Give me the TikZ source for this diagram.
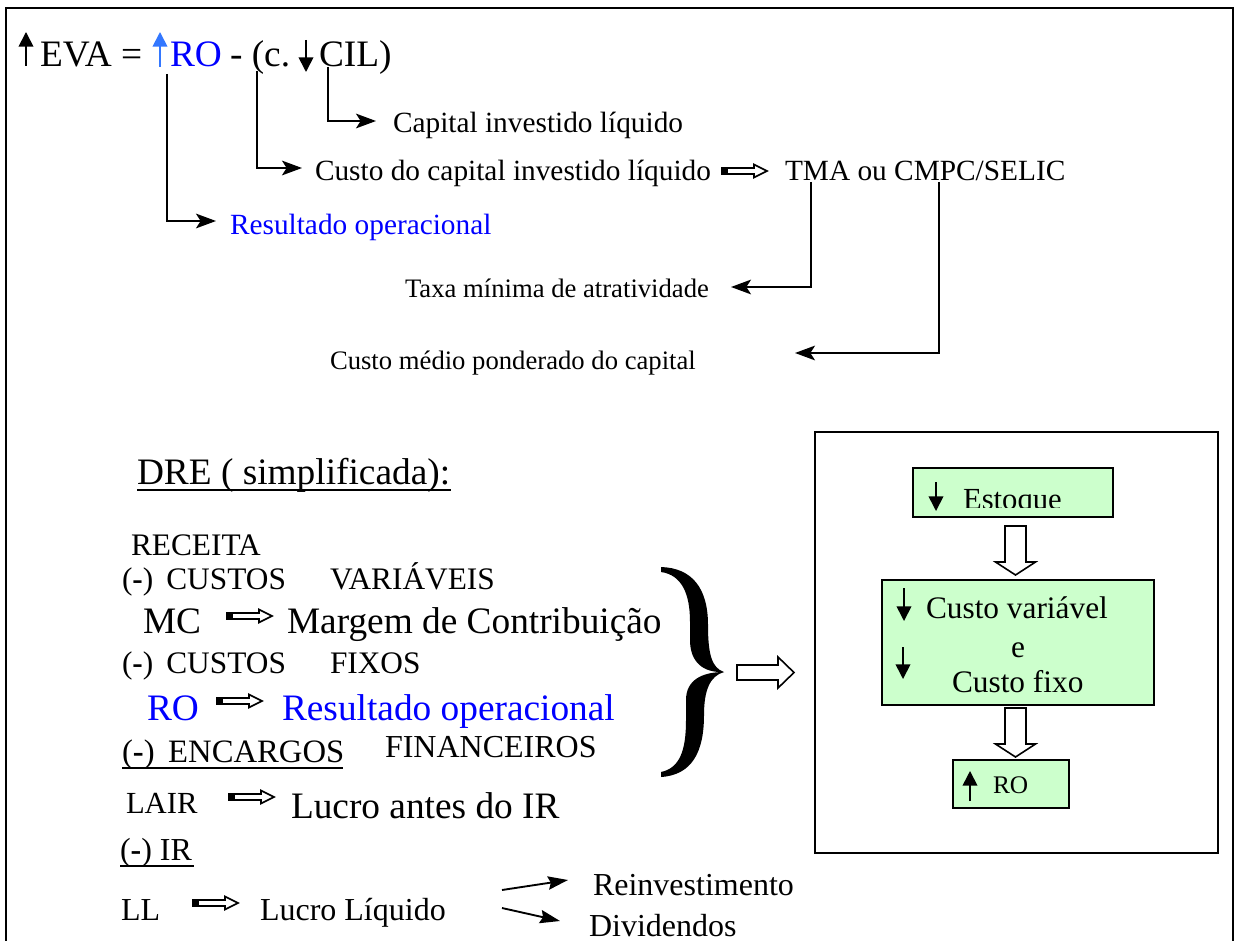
\documentclass[tikz,border=0pt]{standalone}
\usepackage{fontspec}
\setmainfont{Liberation Serif}
\usetikzlibrary{arrows.meta}
\definecolor{roblue}{RGB}{0,0,255}
\definecolor{arrblue}{RGB}{51,119,255}
\definecolor{boxgreen}{RGB}{204,255,204}
\newcommand{\setfs}[1]{\fontsize{#1}{#1}\selectfont}
\newcommand{\minus}{(\textbf{-})}

\begin{document}
\begin{tikzpicture}[x=0.75pt,y=-0.75pt,
  txt/.style={anchor=base west, inner sep=0pt, outer sep=0pt},
  conn/.style={line width=1.5pt, -{Stealth[length=15pt,width=11pt,inset=3.5pt]}},
  slim/.style={line width=1.4pt, -{Stealth[length=15pt,width=10pt,inset=2pt]}},
  tick/.style={line width=1.3pt, -{Triangle[length=11pt,width=11pt]}},
  frame/.style={draw, line width=1.5pt, inner sep=0pt, outer sep=0pt},
  greenbox/.style={frame, fill=boxgreen},
  dblarrow/.pic={
    \draw[line width=1.2pt, fill=white] (6,-3) -- (33,-3) -- (33,-6.5) -- (46,0)
      -- (33,6.5) -- (33,3) -- (6,3) -- cycle;
    \fill (0,-3.6) rectangle (7,3.6);
  },
  fatdown/.pic={
    \draw[line width=1.2pt, fill=white] (-10.5,0) -- (10.5,0) -- (10.5,36) -- (20,36)
      -- (0,49) -- (-20,36) -- (-10.5,36) -- cycle;
  }]
\useasboundingbox (0,0) rectangle (1237,941);

% page frame, open at the bottom
\draw[line width=1.5pt] (6,950) -- (6,8) -- (1233,8) -- (1233,950);

% ---------- EVA formula ----------
\node[txt, font=\setfs{28}] (eva) at (40,67) {EVA =};
\node[txt, font=\setfs{28}, text=roblue] (ro) at (170,67) {RO};
\node[txt, font=\setfs{28}] (cpar) at (230,67) {- (c.};
\node[txt, font=\setfs{28}] (cil) at (319,67) {CIL)};
\coordinate (eva-up0) at (26,66);   \coordinate (eva-up1) at (26,32);
\coordinate (ro-up0) at (160,67);   \coordinate (ro-up1) at (160,32);
\coordinate (cil-dn0) at (306,40);  \coordinate (cil-dn1) at (306,72);
\draw[tick] (eva-up0) -- (eva-up1);
\draw[tick, draw=arrblue, fill=arrblue] (ro-up0) -- (ro-up1);
\draw[tick] (cil-dn0) -- (cil-dn1);

\node[txt, font=\setfs{22}] (capinv) at (393,133) {Capital investido líquido};
\node[txt, font=\setfs{22}] (custocap) at (315,181) {Custo do capital investido líquido};
\node[txt, font=\setfs{22}] (tma) at (785,181) {TMA ou CMPC/SELIC};
\node[txt, font=\setfs{22}, text=roblue] (resop) at (230,234) {Resultado operacional};
\node[txt, font=\setfs{20}] (taxa) at (405,297) {Taxa mínima de atratividade};
\node[txt, font=\setfs{20}] (cmpc) at (330,369) {Custo médio ponderado do capital};

\coordinate (c1a) at (328,67);  \coordinate (c1b) at (376,121);
\coordinate (c2a) at (257,71);  \coordinate (c2b) at (302,168);
\coordinate (c3a) at (167,74);  \coordinate (c3b) at (216,221);
\coordinate (c4a) at (811,182); \coordinate (c4b) at (731,287);
\coordinate (c5a) at (939,182); \coordinate (c5b) at (795,353);
\draw[conn] (c1a) |- (c1b);
\draw[conn] (c2a) |- (c2b);
\draw[conn] (c3a) |- (c3b);
\draw[conn] (c4a) |- (c4b);
\draw[conn] (c5a) |- (c5b);
\pic at (721,171) {dblarrow};

% ---------- DRE ----------
\node[txt, font=\setfs{28}] (dre) at (137,484) {DRE ( simplificada):};
\draw[line width=1.5pt] (dre.base west) ++(0,6) -- ++(314,0);

\node[txt, font=\setfs{23.5}] (rec) at (131,555) {RECEITA};
\node[txt, font=\setfs{23.5}] (cv1) at (122,589) {\minus\ \,CUSTOS};
\node[txt, font=\setfs{23.5}] (cv2) at (330,589) {VARIÁVEIS};
\node[txt, font=\setfs{28}] (mc) at (143,633) {MC};
\node[txt, font=\setfs{28}] (mcdesc) at (287,633) {Margem de Contribuição};
\node[txt, font=\setfs{23.5}] (cf1) at (122,673) {\minus\ \,CUSTOS};
\node[txt, font=\setfs{23.5}] (cf2) at (330,673) {FIXOS};
\node[txt, font=\setfs{28}, text=roblue] (ro2) at (147,720) {RO};
\node[txt, font=\setfs{28}, text=roblue] (ro2desc) at (282,720) {Resultado operacional};
\node[txt, font=\setfs{24.5}] (enc) at (122,762) {\minus\ \,ENCARGOS};
\draw[line width=1.5pt] (enc.base west) ++(0,6) -- ++(221,0);
\node[txt, font=\setfs{24}] (fin) at (385,757) {FINANCEIROS};
\node[txt, font=\setfs{23}] (lair) at (126,813) {LAIR};
\node[txt, font=\setfs{28}] (lairdesc) at (291,818) {Lucro antes do IR};
\node[txt, font=\setfs{24}] (ir) at (120,860) {\minus\ IR};
\draw[line width=1.5pt] (ir.base west) ++(0,6) -- ++(74,0);
\node[txt, font=\setfs{24}] (ll) at (121,920) {LL};
\node[txt, font=\setfs{24}] (lldesc) at (260,920) {Lucro Líquido};
\node[txt, font=\setfs{24}] (reinv) at (593,895) {Reinvestimento};
\node[txt, font=\setfs{24}] (div) at (589,936) {Dividendos};

\pic at (226,616) {dblarrow};
\pic at (216,701) {dblarrow};
\pic at (228,797) {dblarrow};
\pic at (192,903) {dblarrow};

\coordinate (ll-a) at (502,890); \coordinate (ll-b) at (568,880);
\coordinate (ll-c) at (502,908); \coordinate (ll-d) at (560,921);
\draw[slim] (ll-a) -- (ll-b);
\draw[slim] (ll-c) -- (ll-d);

% large curly brace grouping the lines above
\fill (661,567) .. controls (692,568) and (708,588) .. (708,625)
  .. controls (708,655) and (712,668) .. (724,672)
  .. controls (703,673) and (690,662) .. (690,640)
  -- (690,622) .. controls (690,594) and (682,575) .. (661,572) -- cycle;
\fill (724,672) .. controls (710,676) and (704,690) .. (704,715)
  .. controls (704,752) and (692,775) .. (661,777)
  -- (661,772) .. controls (680,768) and (686,750) .. (686,720)
  -- (686,700) .. controls (686,680) and (702,672) .. (724,672) -- cycle;
\draw[line width=1.2pt, fill=white] (737,665) -- (778,665) -- (778,657) -- (794,672.5)
  -- (778,688) -- (778,680) -- (737,680) -- cycle;

% ---------- effect chain box ----------
\node[frame, minimum width=302.25pt, minimum height=315.75pt] (panel) at (1016.5,642.5) {};
\node[greenbox, minimum width=150pt, minimum height=36.75pt] (est) at (1013,492.5) {};
\node[greenbox, minimum width=204pt, minimum height=93.75pt] (cvbox) at (1018,642.5) {};
\node[greenbox, minimum width=87pt, minimum height=36pt] (robox) at (1011,784) {};

\begin{scope}
  \clip (914,469) rectangle (1112,507);
  \node[txt, font=\setfs{23}] (esttxt) at (963,509) {Estoque};
\end{scope}
\coordinate (est-a) at (936,482); \coordinate (est-b) at (936,511);
\draw[tick] (est-a) -- (est-b);

\node[txt, font=\setfs{23.5}] (cvtxt) at (926,618) {Custo variável};
\node[anchor=base, inner sep=0pt, font=\setfs{23.5}] (etxt) at (1018,657) {e};
\node[txt, font=\setfs{23.5}] (cftxt) at (952,692) {Custo fixo};
\coordinate (cv-a) at (904,588); \coordinate (cv-b) at (904,621);
\coordinate (cf-a) at (903,647); \coordinate (cf-b) at (903,679);
\draw[tick] (cv-a) -- (cv-b);
\draw[tick] (cf-a) -- (cf-b);

\node[txt, font=\setfs{19}] (rotxt) at (993,793) {RO};
\coordinate (rob-a) at (970,801); \coordinate (rob-b) at (970,771);
\draw[tick] (rob-a) -- (rob-b);

\pic at (1015.5,526) {fatdown};
\pic at (1015.5,708) {fatdown};
\end{tikzpicture}
\end{document}
